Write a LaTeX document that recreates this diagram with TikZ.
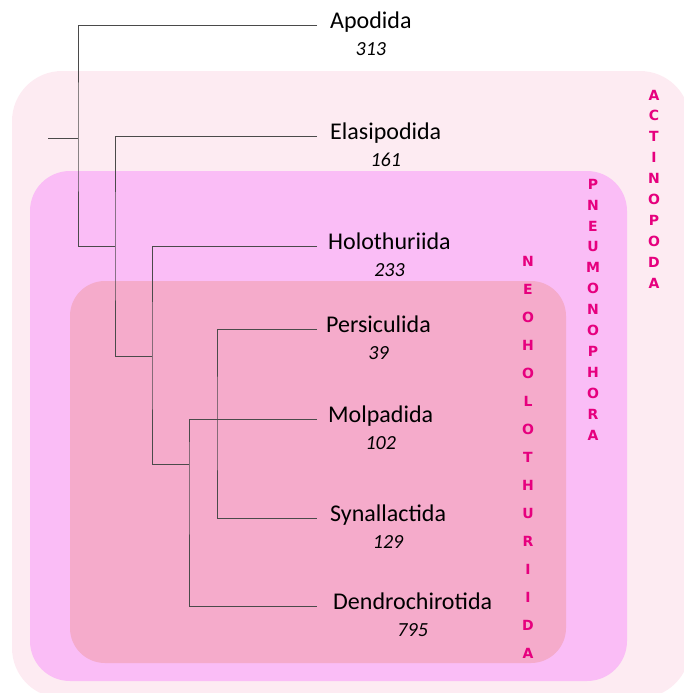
\documentclass[tikz,border=0pt]{standalone}
\usepackage{fontspec}
\setmainfont{Carlito}
\newfontfamily\cladefont{DejaVu Sans}
\definecolor{actBox}{HTML}{FDEBF2}
\definecolor{pneBox}{HTML}{FABDF6}
\definecolor{neoBox}{HTML}{F5ABCB}
\definecolor{cladeText}{HTML}{E6007E}
\definecolor{branchLine}{HTML}{4A4A4A}
\usetikzlibrary{calc,positioning}

\begin{document}
\begin{tikzpicture}[x=1pt, y=-1pt,
  taxon/.style={anchor=base west, inner sep=0pt, font=\fontsize{24}{28}\selectfont},
  count/.style={anchor=base, inner sep=0pt, font=\itshape\fontsize{20}{24}\selectfont},
  clade/.style={align=center, inner sep=0pt, text=cladeText,
    font={\cladefont\bfseries\fontsize{14}{20.9}\selectfont}},
  branch/.style={draw=branchLine, line width=0.9pt}
]
  \useasboundingbox (0,0) rectangle (684,693);

  % nested groups
  \fill[actBox, rounded corners=50pt] (12,71) rectangle (690,698);
  \fill[pneBox, rounded corners=40pt] (30,171) rectangle (627,681);
  \fill[neoBox, rounded corners=35pt] (70,281) rectangle (566,663);

  \node[clade] (actino) at (654,189) {A\\C\\T\\I\\N\\O\\P\\O\\D\\A};
  \node[clade] (pneumo) at (593,309.5) {P\\N\\E\\U\\M\\O\\N\\O\\P\\H\\O\\R\\A};
  \node[clade, font={\cladefont\bfseries\fontsize{14}{28}\selectfont}] (neohol) at (528,457)
    {N\\E\\O\\H\\O\\L\\O\\T\\H\\U\\R\\I\\I\\D\\A};

  % taxa
  \node[taxon] (apo) at (330,28.5) {Apodida};
  \node[taxon] (ela) at (330,139.5) {Elasipodida};
  \node[taxon] (hol) at (328,249.5) {Holothuriida};
  \node[taxon] (per) at (326,332.5) {Persiculida};
  \node[taxon] (mol) at (328,422.5) {Molpadida};
  \node[taxon] (syn) at (330,521.5) {Synallactida};
  \node[taxon] (den) at (333,609.5) {Dendrochirotida};

  \node[count] (apoN) at ([yshift=-27pt]apo.base) {313};
  \node[count] (elaN) at ([yshift=-27pt]ela.base) {161};
  \node[count] (holN) at ([yshift=-27pt]hol.base) {233};
  \node[count] (perN) at ([yshift=-27pt]per.base) {39};
  \node[count] (molN) at ([yshift=-27pt]mol.base) {102};
  \node[count] (synN) at ([yshift=-27pt]syn.base) {129};
  \node[count] (denN) at ([yshift=-27pt]den.base) {795};

  % tips and inner nodes
  \coordinate (tApo) at (317,25);
  \coordinate (tEla) at (317,136);
  \coordinate (tHol) at (317,246);
  \coordinate (tPer) at (317,329);
  \coordinate (tMol) at (317,419);
  \coordinate (tSyn) at (317,518);
  \coordinate (tDen) at (317,606);
  \coordinate (root) at (48,138);
  \coordinate (k1) at (78,138);
  \coordinate (k2) at (115,246);
  \coordinate (k3) at (152,356);
  \coordinate (k4) at (189,464);
  \coordinate (k5) at (217,423);

  \draw[branch] (root) -- (k1);
  \draw[branch] (tApo) -| (k1) |- (k2);
  \draw[branch] (tEla) -| (k2) |- (k3);
  \draw[branch] (tHol) -| (k3) |- (k4);
  \draw[branch] (tMol) -| (k4) |- (tDen);
  \draw[branch] (tPer) -| (k5) |- (tSyn);
\end{tikzpicture}
\end{document}
